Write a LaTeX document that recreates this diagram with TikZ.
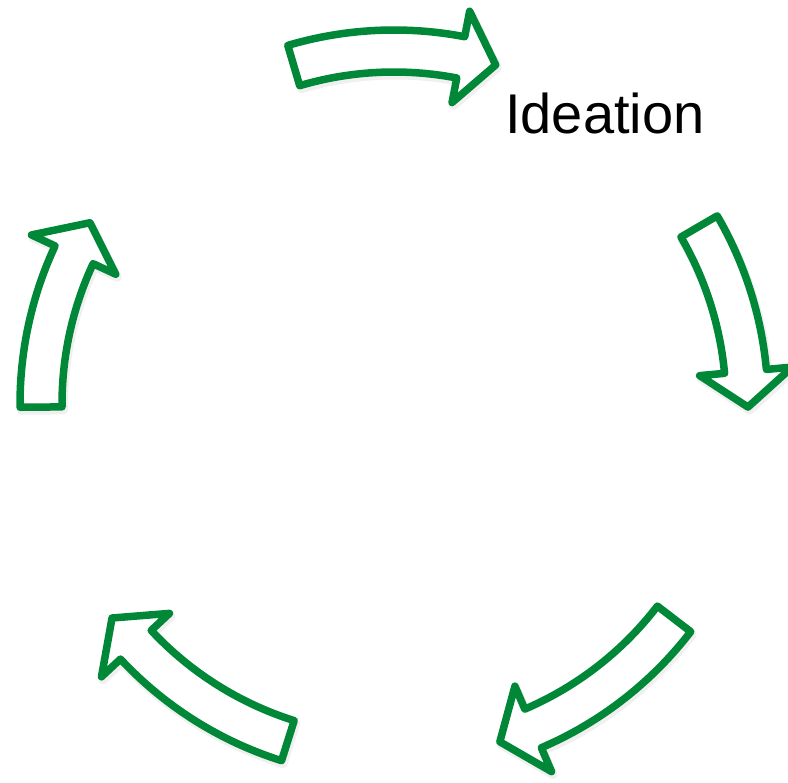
\documentclass[tikz,border=0pt]{standalone}
\usepackage{fontspec}
\setmainfont{Liberation Sans}
\definecolor{cyclegreen}{RGB}{0,136,56}
\tikzset{
  blockarrow/.style={draw=cyclegreen, fill=white, line width=7.5pt, line join=round},
  arrowshade/.style={draw=black, line width=9pt, line join=round, opacity=0.06},
  label/.style={font=\fontsize{56pt}{60pt}\selectfont, text=black, inner sep=0pt, anchor=base west}
}
% outline of one curved block arrow: #1 tail angle, #2 tip angle, #3 head base angle
\newcommand\cyclearrowpath[3]{%
  (#1:374pt) arc[start angle=#1, end angle=#3, radius=374pt]
  -- (#3:400pt) -- (#2:354pt) -- (#3:307pt) -- (#3:332pt)
  arc[start angle=#3, end angle=#1, radius=332pt] -- cycle}
\begin{document}
\begin{tikzpicture}[x=1pt,y=1pt]
  \useasboundingbox (0,0) rectangle (788,-783);
  \coordinate (C) at (394,-404);
  % five curved block arrows running clockwise round the centre
  \foreach \ta/\tb in {106.5/73.3, 30.2/-0.5, -37.5/-72.6, -107.5/-142.8, 180.5/149.2} {
    \pgfmathsetmacro\hb{\tb+5.8}
    % soft drop shadow
    \begin{scope}[shift={(C)}, shift={(1.5,-3)}]
      \draw[arrowshade] \cyclearrowpath{\ta}{\tb}{\hb};
    \end{scope}
    \begin{scope}[shift={(C)}]
      \draw[blockarrow] \cyclearrowpath{\ta}{\tb}{\hb};
    \end{scope}
  }
  \node[label] (ideation) at (505,-133.5) {Ideation};
\end{tikzpicture}
\end{document}
